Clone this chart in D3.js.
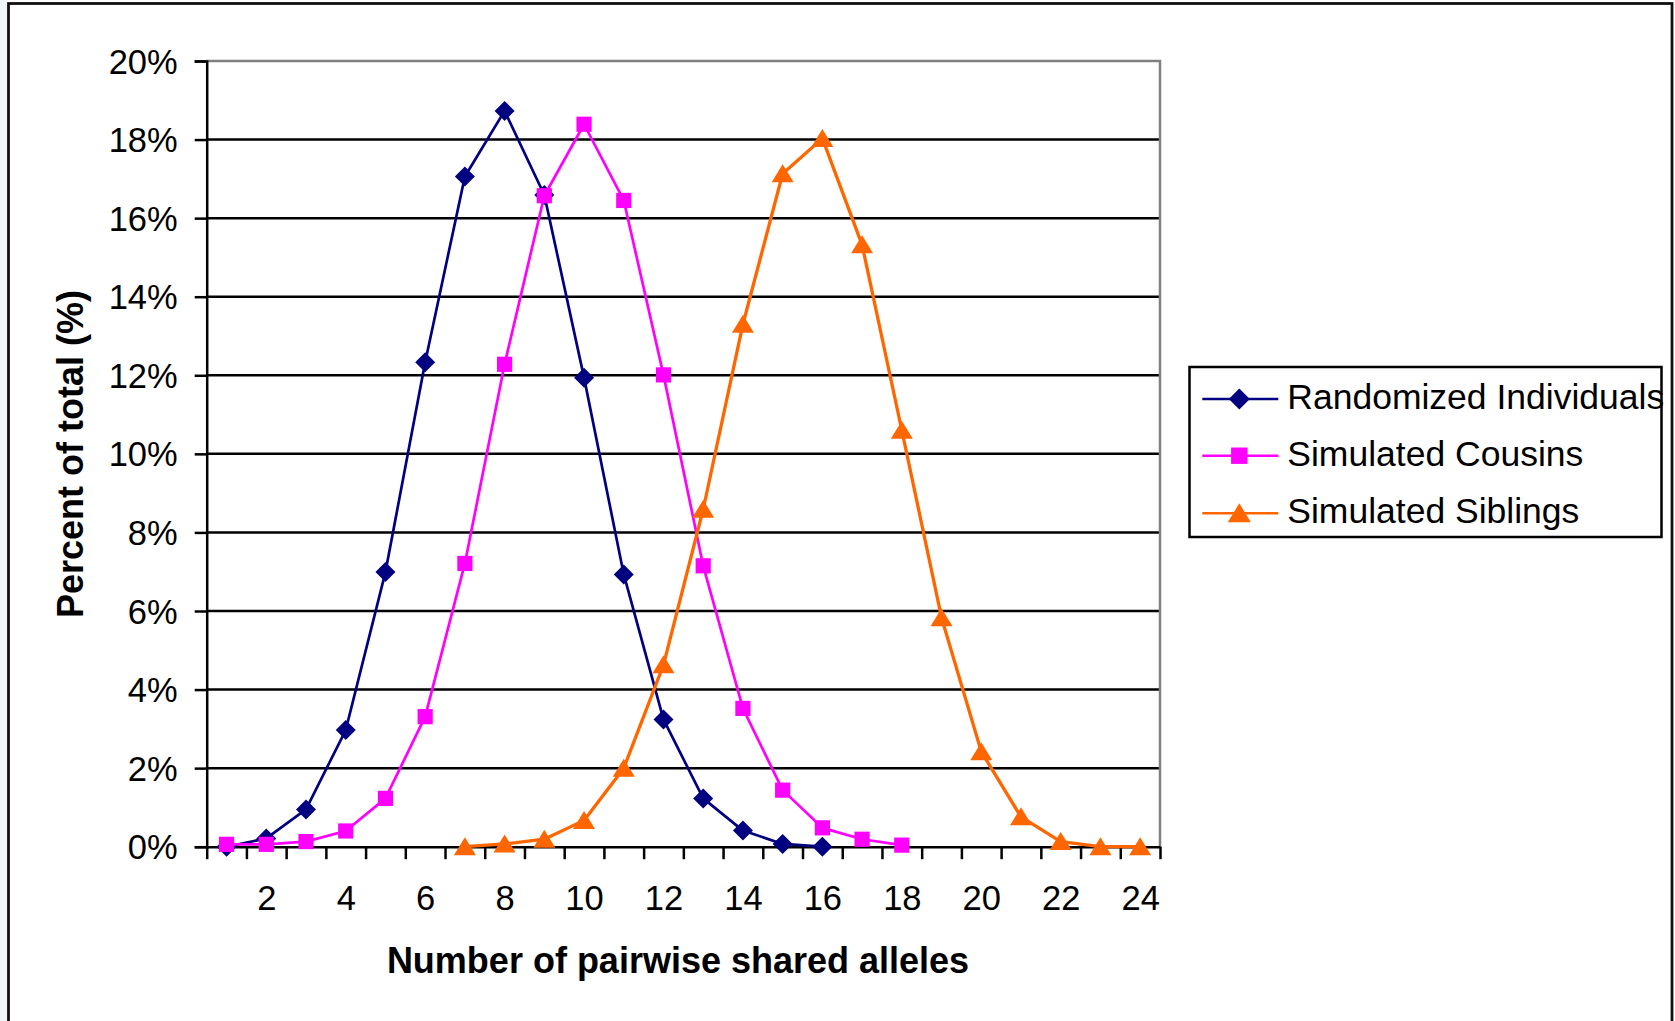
<!DOCTYPE html>
<html>
<head>
<meta charset="utf-8">
<script src="https://cdn.jsdelivr.net/npm/d3@7"></script>
<style>
  html, body { margin: 0; padding: 0; background: #ffffff; }
  svg { display: block; }
  text { font-family: "Liberation Sans", Arial, Helvetica, sans-serif; fill: #000; }
</style>
</head>
<body>
<svg id="chart" width="1675" height="1021"></svg>
<script>
// Number of pairwise shared alleles (category axis)
const categories = d3.range(1, 25);

// Percent of total for each series, indexed by number of shared alleles
const randomizedX = [1, 2, 3, 4, 5, 6, 7, 8, 9, 10, 11, 12, 13, 14, 15, 16];
const randomizedY = [0.0, 0.21, 0.95, 2.97, 6.99, 12.33, 17.06, 18.73, 16.59, 11.94, 6.93, 3.24, 1.23, 0.41, 0.07, 0.0];

const cousinsX = [1, 2, 3, 4, 5, 6, 7, 8, 9, 10, 11, 12, 13, 14, 15, 16, 17, 18];
const cousinsY = [0.06, 0.06, 0.13, 0.40, 1.23, 3.31, 7.21, 12.28, 16.57, 18.39, 16.45, 12.01, 7.15, 3.52, 1.44, 0.48, 0.19, 0.04];

const siblingsX = [7, 8, 9, 10, 11, 12, 13, 14, 15, 16, 17, 18, 19, 20, 21, 22, 23, 24];
const siblingsY = [0.0, 0.07, 0.19, 0.67, 2.0, 4.63, 8.59, 13.30, 17.13, 18.03, 15.32, 10.60, 5.83, 2.42, 0.76, 0.13, 0.0, 0.0];

const seriesNames = ["Randomized Individuals", "Simulated Cousins", "Simulated Siblings"];
const yTicks = [0, 2, 4, 6, 8, 10, 12, 14, 16, 18, 20];
const xLabelTicks = [2, 4, 6, 8, 10, 12, 14, 16, 18, 20, 22, 24];

const series = [
  { name: seriesNames[0], xs: randomizedX, ys: randomizedY, color: "#000080", width: 2.7, marker: "diamond" },
  { name: seriesNames[1], xs: cousinsX,    ys: cousinsY,    color: "#FF00FF", width: 2.7, marker: "square" },
  { name: seriesNames[2], xs: siblingsX,   ys: siblingsY,   color: "#FF6600", width: 3.3, marker: "triangle" }
];

const svg = d3.select("#chart");

// Outer chart frame
svg.append("rect").attr("x", 0).attr("y", 0).attr("width", 7).attr("height", 1021).attr("fill", "#eff6f8");
svg.append("rect")
  .attr("x", 8.5).attr("y", 3.5).attr("width", 1663.5).attr("height", 1040)
  .attr("fill", "#ffffff").attr("stroke", "#111").attr("stroke-width", 2.8);

const plot = { left: 206.7, right: 1160, top: 61, bottom: 846.7 };

const x = d3.scaleLinear().domain([0.5, categories.length + 0.5]).range([plot.left, plot.right]);
const y = d3.scaleLinear().domain([0, 20]).range([plot.bottom, plot.top]);

// Horizontal gridlines
svg.append("g")
  .selectAll("line")
  .data(yTicks.filter(t => t > 0 && t < 20))
  .join("line")
  .attr("x1", plot.left).attr("x2", plot.right)
  .attr("y1", d => y(d)).attr("y2", d => y(d))
  .attr("stroke", "#000").attr("stroke-width", 2.5);

// Plot area border (top and right)
svg.append("path")
  .attr("d", `M${plot.left},${y(20)}H${plot.right}V${plot.bottom}`)
  .attr("fill", "none").attr("stroke", "#808080").attr("stroke-width", 2.5);

// Y axis
const yAxis = svg.append("g")
  .attr("transform", `translate(${plot.left},0)`)
  .call(d3.axisLeft(y).tickValues(yTicks).tickSize(12).tickPadding(17).tickFormat(d => d + "%"));
yAxis.select(".domain").attr("stroke", "#000").attr("stroke-width", 2.5);
yAxis.selectAll(".tick line").attr("stroke", "#000").attr("stroke-width", 2.5);
yAxis.selectAll(".tick text").attr("font-size", 34.5).attr("dy", "0.35em");
yAxis.attr("font-family", null);

// X axis: tick marks at category boundaries
const boundaries = d3.range(0.5, categories.length + 1, 1);
const xAxis = svg.append("g")
  .attr("transform", `translate(0,${plot.bottom})`)
  .call(d3.axisBottom(x).tickValues(boundaries).tickSize(12.5).tickSizeOuter(0).tickFormat(""));
xAxis.select(".domain").attr("stroke", "#000").attr("stroke-width", 2.5);
xAxis.selectAll(".tick line").attr("stroke", "#000").attr("stroke-width", 2.5);
xAxis.attr("font-family", null);

// X axis labels at category centres
const xLabels = svg.append("g")
  .attr("transform", `translate(0,${plot.bottom})`)
  .call(d3.axisBottom(x).tickValues(xLabelTicks).tickSize(0).tickFormat(d3.format("d")));
xLabels.select(".domain").remove();
xLabels.attr("font-family", null);
xLabels.selectAll(".tick text").attr("font-size", 34.5).attr("dy", null).attr("y", 63.5);

// Axis titles
svg.append("text")
  .attr("x", 678).attr("y", 973)
  .attr("text-anchor", "middle")
  .attr("font-size", 36).attr("font-weight", "bold")
  .text("Number of pairwise shared alleles");

svg.append("text")
  .attr("transform", "translate(83,454) rotate(-90)")
  .attr("text-anchor", "middle")
  .attr("font-size", 36).attr("font-weight", "bold")
  .text("Percent of total (%)");

// Marker shapes
function markerPath(type, s) {
  if (type === "diamond") return `M0,${-s}L${s},0L0,${s}L${-s},0Z`;
  if (type === "square") return `M${-s},${-s}H${s}V${s}H${-s}Z`;
  return `M0,${-s * 0.95}L${s * 1.1},${s * 0.85}H${-s * 1.1}Z`;
}
const markerSize = { diamond: 10, square: 7.6, triangle: 10 };

const line = d3.line().x(d => x(d[0])).y(d => y(d[1]));

series.forEach(s => {
  const pts = s.xs.map((v, i) => [v, s.ys[i]]);
  svg.append("path")
    .datum(pts)
    .attr("d", line)
    .attr("fill", "none")
    .attr("stroke", s.color)
    .attr("stroke-width", s.width)
    .attr("stroke-linejoin", "round");
  svg.append("g")
    .selectAll("path")
    .data(pts)
    .join("path")
    .attr("transform", d => `translate(${x(d[0])},${y(d[1])})`)
    .attr("d", markerPath(s.marker, markerSize[s.marker]))
    .attr("fill", s.color);
});

// Legend
const legend = svg.append("g");
legend.append("rect")
  .attr("x", 1189.5).attr("y", 367).attr("width", 472).attr("height", 170)
  .attr("fill", "#fff").attr("stroke", "#000").attr("stroke-width", 2.5);

const legendRows = [399, 455.7, 513.3];
const legendMarkerSize = { diamond: 10.5, square: 8.2, triangle: 10.5 };
series.forEach((s, i) => {
  const ly = legendRows[i];
  legend.append("line")
    .attr("x1", 1202.3).attr("x2", 1278.3)
    .attr("y1", ly).attr("y2", ly)
    .attr("stroke", s.color).attr("stroke-width", 2.5);
  legend.append("path")
    .attr("transform", `translate(1239.3,${ly})`)
    .attr("d", markerPath(s.marker, legendMarkerSize[s.marker]))
    .attr("fill", s.color);
  legend.append("text")
    .attr("x", 1287.3).attr("y", ly + 10)
    .attr("font-size", 35.5)
    .text(s.name);
});
</script>
</body>
</html>
